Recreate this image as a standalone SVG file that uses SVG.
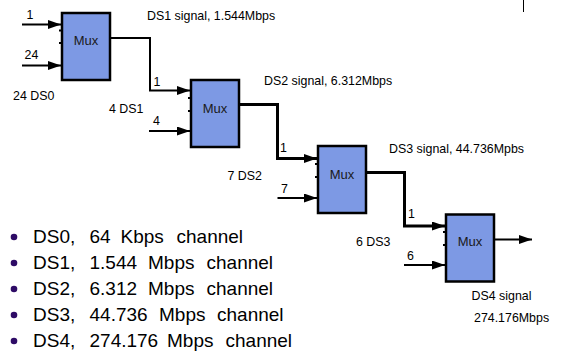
<svg xmlns="http://www.w3.org/2000/svg" width="562" height="354" viewBox="0 0 562 354">
  <style>
    .mux rect { fill: #7d99e4; stroke: #000; stroke-width: 2.5; }
    .mux .pin { fill: #000; stroke: none; }
    .mux text { font-family: "Liberation Sans", Arial, sans-serif; font-size: 13px; fill: #1a1a1a; text-anchor: middle; }
    .lbl { font-family: "Liberation Sans", Arial, sans-serif; font-size: 12.4px; fill: #000; }
    .wire { fill: none; stroke: #000; stroke-width: 2; }
    .wire.bold { stroke-width: 3; }
    .arrow { marker-end: url(#head); }
    .list { font-family: "Liberation Sans", Arial, sans-serif; font-size: 19px; fill: #000; }
    .dot { fill: #2e0b66; }
  </style>
  <defs>
    <marker id="head" markerUnits="userSpaceOnUse" markerWidth="14" markerHeight="10" refX="13" refY="4.5" orient="auto">
      <path d="M0,0 L13,4.5 L0,9 z" fill="#000"/>
    </marker>
  </defs>

  <!-- stray mark at the top right -->
  <line x1="523.5" y1="0" x2="523.5" y2="12" stroke="#000" stroke-width="1"/>

  <!-- multiplexer stages -->
  <g id="mux1" class="mux">
    <rect x="62" y="13" width="48" height="67"/>
    <text x="86" y="44.5">Mux</text>
    <rect class="pin" x="59" y="29.5" width="2" height="2"/>
    <rect class="pin" x="59" y="42" width="2" height="2"/>
  </g>
  <g id="mux2" class="mux">
    <rect x="191" y="80" width="48" height="67"/>
    <text x="215" y="112.5">Mux</text>
    <rect class="pin" x="188" y="97" width="2" height="2"/>
    <rect class="pin" x="188" y="110" width="2" height="2"/>
  </g>
  <g id="mux3" class="mux">
    <rect x="318" y="146" width="48" height="67"/>
    <text x="342" y="179">Mux</text>
    <rect class="pin" x="315" y="163" width="2" height="2"/>
    <rect class="pin" x="315" y="176" width="2" height="2"/>
  </g>
  <g id="mux4" class="mux">
    <rect x="446" y="214.5" width="48" height="67"/>
    <text x="470" y="246">Mux</text>
    <rect class="pin" x="443" y="231" width="2" height="2"/>
    <rect class="pin" x="443" y="244" width="2" height="2"/>
  </g>

  <!-- connectors -->
  <g id="connectors">
    <line class="wire arrow" x1="22" y1="24.5" x2="61" y2="24.5"/>
    <line class="wire arrow" x1="22" y1="65.5" x2="61" y2="65.5"/>
    <polyline class="wire arrow" points="111,38 150,38 150,90.5 190,90.5"/>
    <line class="wire arrow" x1="149" y1="131" x2="190" y2="131"/>
    <polyline class="wire bold arrow" points="239,104.5 277.5,104.5 277.5,158.5 317,158.5"/>
    <line class="wire arrow" x1="277.5" y1="198" x2="317" y2="198"/>
    <polyline class="wire bold arrow" points="366,172.5 404.5,172.5 404.5,226 445,226"/>
    <line class="wire arrow" x1="404" y1="265" x2="445" y2="265"/>
    <line class="wire arrow" x1="495" y1="239.5" x2="532" y2="239.5"/>
  </g>

  <!-- signal labels -->
  <g id="labels" class="lbl">
    <text x="26.5" y="18.5">1</text>
    <text x="24.5" y="58.5">24</text>
    <text x="13" y="100">24 DS0</text>
    <text x="147" y="20">DS1 signal, 1.544Mbps</text>
    <text x="153.5" y="85.5">1</text>
    <text x="109" y="113">4 DS1</text>
    <text x="153" y="125">4</text>
    <text x="264" y="85">DS2 signal, 6.312Mbps</text>
    <text x="280" y="151.5">1</text>
    <text x="227.5" y="179.5">7 DS2</text>
    <text x="281" y="192.5">7</text>
    <text x="389" y="153">DS3 signal, 44.736Mpbs</text>
    <text x="408" y="218">1</text>
    <text x="356" y="246">6 DS3</text>
    <text x="407" y="259.5">6</text>
    <text x="471.5" y="300">DS4 signal</text>
    <text x="474" y="322">274.176Mbps</text>
  </g>

  <!-- channel rates -->
  <g id="rates" class="list">
    <circle class="dot" cx="14" cy="237" r="3.3"/>
    <circle class="dot" cx="14" cy="263" r="3.3"/>
    <circle class="dot" cx="14" cy="289" r="3.3"/>
    <circle class="dot" cx="14" cy="315" r="3.3"/>
    <circle class="dot" cx="14" cy="341" r="3.3"/>
    <text y="242.5"><tspan x="33">DS0,</tspan><tspan x="89.5">64</tspan><tspan x="120.5">Kbps</tspan><tspan x="176.5">channel</tspan></text>
    <text y="268.5"><tspan x="33">DS1,</tspan><tspan x="89.5">1.544</tspan><tspan x="148">Mbps</tspan><tspan x="206.5">channel</tspan></text>
    <text y="294.5"><tspan x="33">DS2,</tspan><tspan x="89.5">6.312</tspan><tspan x="148">Mbps</tspan><tspan x="206.5">channel</tspan></text>
    <text y="320.5"><tspan x="33">DS3,</tspan><tspan x="89.5">44.736</tspan><tspan x="159">Mbps</tspan><tspan x="217">channel</tspan></text>
    <text y="346.5"><tspan x="33">DS4,</tspan><tspan x="89.5">274.176</tspan><tspan x="167">Mbps</tspan><tspan x="225.5">channel</tspan></text>
  </g>
</svg>
